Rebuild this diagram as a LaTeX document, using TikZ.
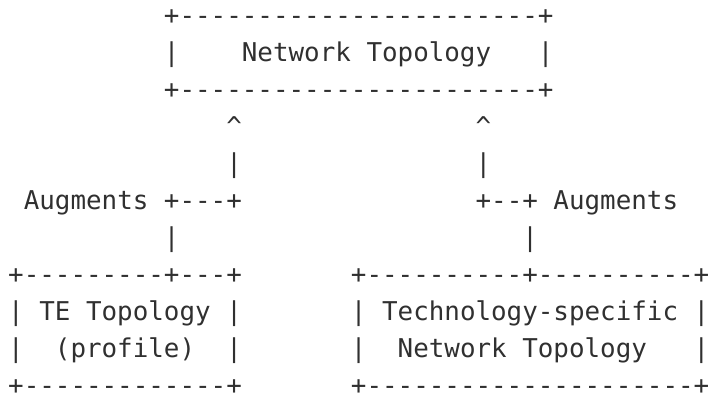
\documentclass[tikz,border=0pt]{standalone}
\usepackage{fontspec}
\newfontfamily\asciimono[Ligatures={TeXOff,CommonOff}]{DejaVu Sans Mono}
\definecolor{inkgray}{HTML}{303030}
\makeatletter
\def\reprun#1#2{\ifnum#1>0 #2\expandafter\reprun\expandafter{\the\numexpr#1-1\relax}{#2}\fi}
\makeatother
\frenchspacing
\tikzset{
  asciirow/.style={anchor=base west, inner sep=0pt, outer sep=0pt, text=inkgray,
    font=\asciimono\fontsize{25.878pt}{37pt}\selectfont}
}
\begin{document}
\begin{tikzpicture}[x=1pt,y=1pt]
\useasboundingbox (0,0) rectangle (710,396);
\node[asciirow] (row1)  at (8.2,371.3) {\reprun{10}{~}+\reprun{23}{-}+};
\node[asciirow] (row2)  at (8.2,334.3) {\reprun{10}{~}|\reprun{4}{~}Network~Topology\reprun{3}{~}|};
\node[asciirow] (row3)  at (8.2,297.3) {\reprun{10}{~}+\reprun{23}{-}+};
\node[asciirow] (row4)  at (8.2,260.3) {\reprun{14}{~}\textasciicircum\reprun{15}{~}\textasciicircum};
\node[asciirow] (row5)  at (8.2,223.3) {\reprun{14}{~}|\reprun{15}{~}|};
\node[asciirow] (row6)  at (8.2,186.3) {~Augments~+\reprun{3}{-}+\reprun{15}{~}+\reprun{2}{-}+~Augments};
\node[asciirow] (row7)  at (8.2,149.3) {\reprun{10}{~}|\reprun{22}{~}|};
\node[asciirow] (row8)  at (8.2,112.3) {+\reprun{9}{-}+\reprun{3}{-}+\reprun{7}{~}+\reprun{10}{-}+\reprun{10}{-}+};
\node[asciirow] (row9)  at (8.2,75.3)  {|~TE~Topology~|\reprun{7}{~}|~Technology-specific~|};
\node[asciirow] (row10) at (8.2,38.3)  {|~~(profile)~~|\reprun{7}{~}|~~Network~Topology~~~|};
\node[asciirow, text depth=0pt] (row11) at (8.2,1.3) {+\reprun{13}{-}+\reprun{7}{~}+\reprun{21}{-}+};
\end{tikzpicture}
\end{document}
